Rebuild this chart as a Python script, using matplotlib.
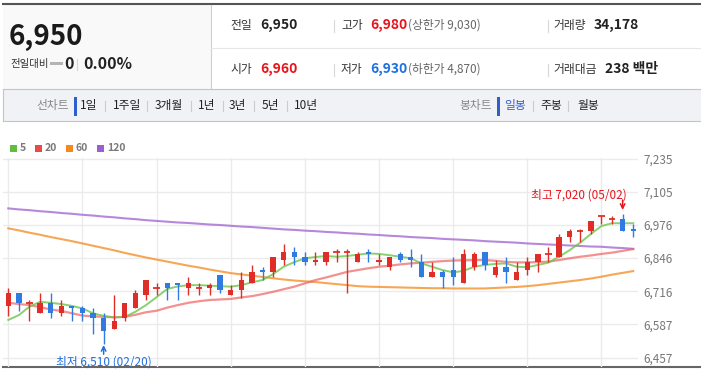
import matplotlib
matplotlib.use("Agg")
import matplotlib.pyplot as plt
from matplotlib.patches import Rectangle

plt.rcParams['font.family'] = ['Noto Sans CJK KR', 'DejaVu Sans']

# ---- data (daily candles, 60 sessions) ----
opens = [6660, 6710, 6670, 6630, 6670, 6630, 6660, 6650, 6630, 6610,
         6570, 6610, 6650, 6700, 6730, 6750, 6750, 6730, 6730, 6730,
         6780, 6700, 6720, 6750, 6800, 6790, 6840, 6870, 6850, 6830,
         6830, 6870, 6870, 6830, 6870, 6830, 6810, 6860, 6850, 6830,
         6770, 6790, 6800, 6750, 6810, 6870, 6780, 6810, 6760, 6800,
         6830, 6860, 6850, 6930, 6950, 6950, 7010, 7000, 7000, 6960]
highs = [6730, 6710, 6680, 6710, 6710, 6680, 6660, 6660, 6650, 6630,
         6700, 6670, 6720, 6760, 6750, 6750, 6750, 6770, 6750, 6750,
         6780, 6740, 6790, 6820, 6810, 6850, 6900, 6890, 6870, 6870,
         6870, 6880, 6880, 6870, 6880, 6860, 6850, 6870, 6880, 6860,
         6830, 6800, 6850, 6880, 6870, 6870, 6840, 6850, 6830, 6850,
         6860, 6890, 6940, 6960, 6960, 6990, 7010, 7010, 7020, 6980]
lows = [6620, 6640, 6600, 6630, 6610, 6620, 6600, 6600, 6550, 6510,
        6570, 6600, 6650, 6680, 6700, 6680, 6680, 6700, 6700, 6700,
        6710, 6700, 6690, 6750, 6760, 6770, 6820, 6820, 6820, 6820,
        6820, 6830, 6710, 6830, 6830, 6820, 6800, 6830, 6810, 6770,
        6770, 6730, 6740, 6750, 6800, 6800, 6770, 6750, 6760, 6780,
        6790, 6830, 6850, 6910, 6910, 6940, 6980, 6980, 6950, 6930]
closes = [6710, 6670, 6670, 6670, 6630, 6660, 6650, 6630, 6610, 6560,
          6600, 6670, 6710, 6760, 6730, 6730, 6740, 6750, 6730, 6740,
          6720, 6720, 6760, 6790, 6790, 6850, 6870, 6850, 6830, 6840,
          6870, 6870, 6870, 6860, 6860, 6840, 6850, 6840, 6840, 6770,
          6790, 6770, 6770, 6860, 6860, 6820, 6810, 6790, 6790, 6830,
          6860, 6860, 6930, 6950, 6950, 6990, 7010, 7000, 6950, 6950]

ma5 = [6604, 6623, 6656, 6675, 6671, 6666, 6659, 6649, 6630, 6620,
       6614, 6616, 6636, 6662, 6693, 6725, 6735, 6740, 6740, 6738,
       6736, 6734, 6740, 6751, 6760, 6783, 6812, 6830, 6845, 6850,
       6854, 6851, 6854, 6859, 6864, 6862, 6857, 6851, 6845, 6825,
       6812, 6799, 6790, 6796, 6812, 6819, 6823, 6825, 6812, 6810,
       6819, 6828, 6851, 6877, 6906, 6940, 6971, 6982, 6982, 6982]
ma20 = [6671, 6666, 6662, 6654, 6645, 6639, 6630, 6621, 6618, 6616,
        6614, 6616, 6624, 6634, 6640, 6652, 6662, 6671, 6677, 6682,
        6684, 6686, 6692, 6697, 6705, 6714, 6724, 6734, 6747, 6760,
        6770, 6781, 6792, 6799, 6806, 6812, 6816, 6821, 6825, 6828,
        6831, 6834, 6836, 6837, 6838, 6838, 6835, 6831, 6829, 6829,
        6830, 6832, 6838, 6845, 6851, 6856, 6862, 6867, 6874, 6881]
ma60 = [6962, 6954, 6945, 6937, 6928, 6920, 6912, 6903, 6894, 6885,
        6876, 6866, 6857, 6848, 6840, 6832, 6824, 6816, 6809, 6801,
        6794, 6787, 6782, 6777, 6772, 6767, 6762, 6758, 6755, 6752,
        6748, 6744, 6740, 6736, 6734, 6733, 6732, 6731, 6730, 6729,
        6728, 6728, 6727, 6727, 6727, 6727, 6729, 6731, 6733, 6736,
        6740, 6745, 6750, 6755, 6760, 6766, 6773, 6781, 6788, 6795]
ma120 = [7040, 7036, 7033, 7029, 7026, 7022, 7019, 7015, 7012, 7008,
         7005, 7001, 6998, 6994, 6991, 6988, 6985, 6983, 6980, 6977,
         6975, 6972, 6969, 6967, 6964, 6961, 6958, 6956, 6953, 6951,
         6948, 6946, 6943, 6941, 6938, 6936, 6933, 6931, 6928, 6926,
         6924, 6921, 6919, 6917, 6915, 6912, 6910, 6908, 6906, 6903,
         6901, 6899, 6897, 6895, 6893, 6891, 6890, 6887, 6885, 6882]

yticks = [6457, 6587, 6716, 6846, 6976, 7105, 7235]
ylabels = ["6,457", "6,587", "6,716", "6,846", "6,976", "7,105", "7,235"]

UP = "#e12d28"
DOWN = "#2f7be2"
W, H = 701, 370

fig = plt.figure(figsize=(W / 100, H / 100), dpi=100)

# ---- header overlay in pixel coords ----
bg = fig.add_axes([0, 0, 1, 1])
bg.set_xlim(0, W)
bg.set_ylim(H, 0)
bg.axis("off")

bg.add_patch(Rectangle((3, 5), 208, 84, color="#f9f9f9", lw=0))
bg.add_patch(Rectangle((3, 89), 698, 32, color="#f1f2f5", lw=0))
bg.plot([3, 701], [4, 4], color="#555555", lw=1.5)
bg.plot([211, 211], [5, 89], color="#cfcfcf", lw=0.8)
bg.plot([211, 701], [47.5, 47.5], color="#e6e6e6", lw=0.8)
bg.plot([3, 701], [89, 89], color="#c4c4c4", lw=0.8)
bg.plot([3, 701], [121, 121], color="#c4c4c4", lw=0.8)
bg.plot([3, 3], [89, 121], color="#c4c4c4", lw=0.8)

bg.text(9, 37, "6,950", fontsize=20, fontweight="bold", color="#1a1a1a", va="center")
bg.text(10, 63.5, "전일대비", fontsize=7.5, color="#333333", va="center")
bg.add_patch(Rectangle((49.5, 61.5), 13, 3, color="#b4b4b4", lw=0))
bg.text(64, 64, "0", fontsize=11.5, fontweight="bold", color="#222222", va="center")
bg.plot([77, 77], [59, 70], color="#d5d5d5", lw=0.8)
bg.text(83, 64, "0.00%", fontsize=11.5, fontweight="bold", color="#222222", va="center")

rows = [
    (25.5, [(230, "전일", "#333333", "normal", 8.5),
            (260, "6,950", "#222222", "bold", 10),
            (341, "고가", "#333333", "normal", 8.5),
            (370, "6,980", "#e8141c", "bold", 10),
            (408, "(상한가 9,030)", "#666666", "normal", 8.5),
            (553, "거래량", "#333333", "normal", 8.5),
            (594, "34,178", "#222222", "bold", 10)]),
    (69.5, [(230, "시가", "#333333", "normal", 8.5),
            (260, "6,960", "#e8141c", "bold", 10),
            (341, "저가", "#333333", "normal", 8.5),
            (370, "6,930", "#1e6fe0", "bold", 10),
            (408, "(하한가 4,870)", "#666666", "normal", 8.5),
            (553, "거래대금", "#333333", "normal", 8.5),
            (605, "238 백만", "#222222", "bold", 10)]),
]
for y, items in rows:
    for x, s, c, wgt, fs in items:
        bg.text(x, y, s, fontsize=fs, color=c, fontweight=wgt, va="center")
    for x in (334, 548):
        bg.plot([x, x], [y - 6, y + 6], color="#d8d8d8", lw=0.8)

# tab bar
bg.text(36, 106, "선차트", fontsize=8.5, color="#888888", va="center")
bg.add_patch(Rectangle((74, 97), 3, 19, color="#2f5fcc", lw=0))
tabs = [(80, "1일"), (113, "1주일"), (155, "3개월"), (198, "1년"),
        (229, "3년"), (262, "5년"), (294, "10년")]
for x, s in tabs:
    bg.text(x, 106, s, fontsize=8.5, color="#222222", va="center")
for x in (105, 147, 191, 223, 254, 287):
    bg.plot([x, x], [101, 111], color="#cccccc", lw=0.8)
bg.text(459, 106, "봉차트", fontsize=8.5, color="#888888", va="center")
bg.add_patch(Rectangle((497, 97), 3, 19, color="#2f5fcc", lw=0))
bg.text(504, 106, "일봉", fontsize=8.5, color="#2f5fcc", va="center")
bg.text(540, 106, "주봉", fontsize=8.5, color="#222222", va="center")
bg.text(577, 106, "월봉", fontsize=8.5, color="#222222", va="center")
for x in (533, 568):
    bg.plot([x, x], [101, 111], color="#cccccc", lw=0.8)

# legend
legend = [(10, "#5cbf40", "5"), (35, "#e84a46", "20"),
          (66, "#f5891f", "60"), (97, "#9b5fd1", "120")]
for x, c, s in legend:
    bg.add_patch(Rectangle((x, 144.5), 7, 7, color=c, lw=0))
    bg.text(x + 10, 148, s, fontsize=7.5, fontweight="bold", color="#7a7a7a", va="center")

# bottom axis line
bg.plot([3, 701], [366.8, 366.8], color="#666666", lw=1.5)

# ---- chart ----
ax = fig.add_axes([3 / W, 1 - 367 / H, 635 / W, (367 - 158) / H])
ax.set_facecolor("none")
x = list(range(len(opens)))
for i in x:
    o, h, l, c = opens[i], highs[i], lows[i], closes[i]
    col = UP if c >= o else DOWN
    ax.vlines(i, l, h, color=col, lw=1.0, zorder=3)
    if c == o:
        ax.hlines(c, i - 0.3, i + 0.3, color=col, lw=1.3, zorder=3)
    else:
        ax.bar(i, abs(c - o), bottom=min(o, c), width=0.5, color=col, lw=0, zorder=3)

ax.plot(x, ma120, color="#a46bd2", lw=1.5, alpha=0.8, zorder=2)
ax.plot(x, ma60, color="#f6902a", lw=1.5, alpha=0.8, zorder=2)
ax.plot(x, ma20, color="#ef6262", lw=1.6, alpha=0.7, zorder=2)
ax.plot(x, ma5, color="#6cc54c", lw=1.4, alpha=0.8, zorder=2)

ax.set_xlim(-0.5, 59.45)
ax.set_ylim(6420, 7237)
ax.set_xticks(range(0, 60, 7))
ax.set_xticklabels([])
ax.set_yticks(yticks)
ax.set_yticklabels(ylabels)
ax.yaxis.tick_right()
ax.tick_params(axis="y", length=0, pad=4, labelsize=8.5, labelcolor="#777777")
ax.tick_params(axis="x", length=0)
ax.grid(True, color="#ebebeb", lw=1)
ax.set_axisbelow(True)
for sp in ax.spines.values():
    sp.set_visible(False)

# low / high markers
ax.annotate("", xy=(9, 6506), xytext=(9, 6470),
            arrowprops=dict(arrowstyle="->", color="#1f6fe0", lw=1.1, mutation_scale=8,
                            shrinkA=0, shrinkB=0),
            annotation_clip=False)
ax.text(9, 6440, "최저 6,510 (02/20)", fontsize=8.5, color="#1f6fe0",
        ha="center", va="center", clip_on=False)
ax.annotate("", xy=(58, 7034), xytext=(58, 7073),
            arrowprops=dict(arrowstyle="->", color="#e8141c", lw=1.1, mutation_scale=8,
                            shrinkA=0, shrinkB=0),
            annotation_clip=False)
ax.text(58.42, 7092, "최고 7,020 (05/02)", fontsize=8.5, color="#e8141c",
        ha="right", va="center", clip_on=False)

fig.savefig("out.png", dpi=100)
plt.close(fig)
